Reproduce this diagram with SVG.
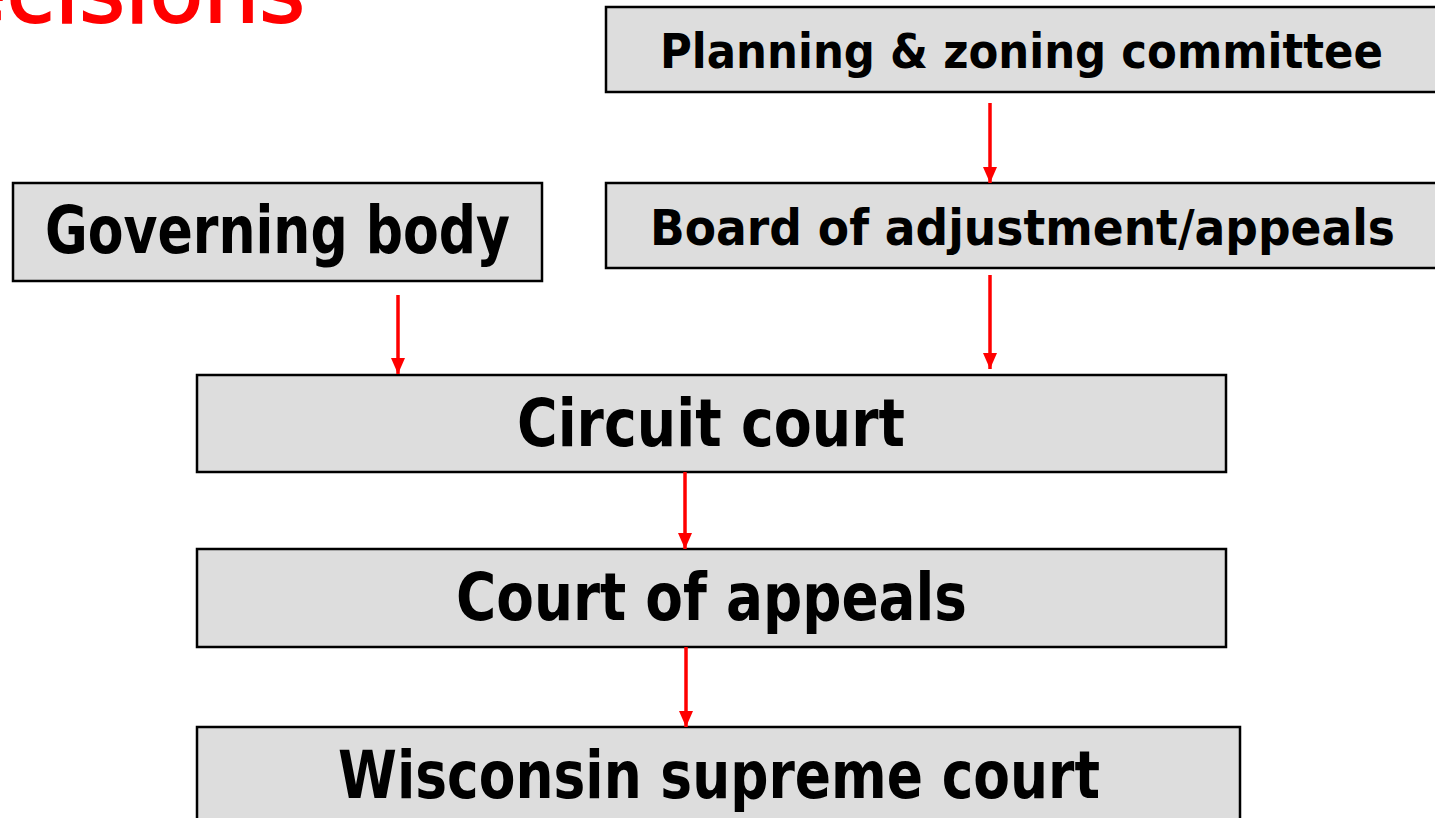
<svg xmlns="http://www.w3.org/2000/svg" width="1435" height="818" viewBox="0 0 1435 818">
<style>
.box{fill:#dddddd;stroke:#000;stroke-width:2.5}
.lbl{font-family:"DejaVu Sans","Liberation Sans",sans-serif;font-weight:bold;fill:#000}
.con{stroke:#ff0000;stroke-width:3.5;fill:none;marker-end:url(#ah)}
</style>
<defs>
<marker id="ah" markerUnits="userSpaceOnUse" markerWidth="16" markerHeight="14" refX="16" refY="7" orient="auto" viewBox="0 0 16 14">
<path d="M0,0 L16,7 L0,14 Z" fill="#ff0000"/>
</marker>
</defs>
<rect width="1435" height="818" fill="#fff"/>
<text id="title" x="305" y="22" text-anchor="end" font-family="'DejaVu Sans','Liberation Sans',sans-serif" font-size="88" fill="#ff0000" stroke="#ff0000" stroke-width="2">ecisions</text>
<g id="planning"><rect class="box" x="606" y="7" width="840" height="85"/><text class="lbl" x="660" y="68" font-size="48" textLength="723" lengthAdjust="spacingAndGlyphs">Planning &amp; zoning committee</text></g>
<g id="board"><rect class="box" x="606" y="183" width="840" height="85"/><text class="lbl" x="650" y="245" font-size="50" textLength="745" lengthAdjust="spacingAndGlyphs">Board of adjustment/appeals</text></g>
<g id="governing"><rect class="box" x="13" y="183" width="529" height="98"/><text class="lbl" x="45" y="253" font-size="66" textLength="465" lengthAdjust="spacingAndGlyphs">Governing body</text></g>
<g id="circuit"><rect class="box" x="197" y="375" width="1029" height="97"/><text class="lbl" x="517" y="446" font-size="66" textLength="388" lengthAdjust="spacingAndGlyphs">Circuit court</text></g>
<g id="appeals"><rect class="box" x="197" y="549" width="1029" height="98"/><text class="lbl" x="456" y="620" font-size="66" textLength="511" lengthAdjust="spacingAndGlyphs">Court of appeals</text></g>
<g id="supreme"><rect class="box" x="197" y="727" width="1043" height="100"/><text class="lbl" x="338" y="798" font-size="66" textLength="762" lengthAdjust="spacingAndGlyphs">Wisconsin supreme court</text></g>
<g id="connectors">
<line class="con" x1="990" y1="103" x2="990" y2="183"/>
<line class="con" x1="398" y1="295" x2="398" y2="374"/>
<line class="con" x1="990" y1="275" x2="990" y2="369"/>
<line class="con" x1="685" y1="472" x2="685" y2="549"/>
<line class="con" x1="686" y1="647" x2="686" y2="727"/>
</g>
</svg>
